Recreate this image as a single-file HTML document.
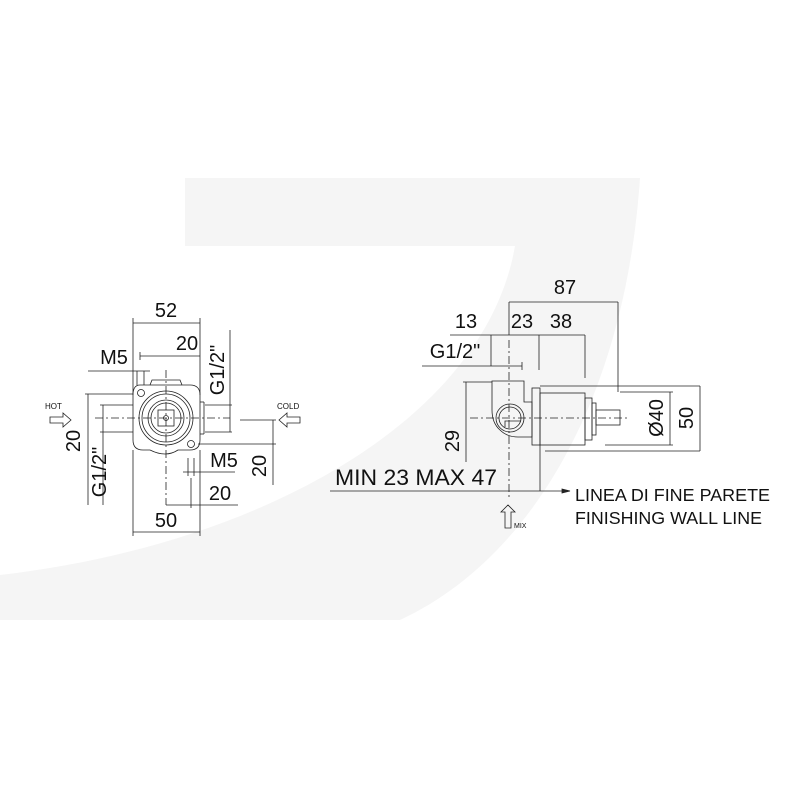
<!DOCTYPE html>
<html><head><meta charset="utf-8"><style>
html,body{margin:0;padding:0;background:#fff}
svg{display:block}
text{font-family:"Liberation Sans",sans-serif;fill:#111}
</style></head><body>
<svg width="800" height="800" viewBox="0 0 800 800" xmlns="http://www.w3.org/2000/svg">
<path d="M185,178 L640,178 C625,400 530,560 400,620 L0,620 L0,575 C260,545 485,420 515,246 L185,246 Z" fill="#f5f5f5"/>
<g stroke="#222" stroke-width="0.8" fill="none">
<line x1="133" y1="323" x2="200" y2="323"/>
<line x1="133" y1="318" x2="133" y2="395"/>
<line x1="200" y1="318" x2="200" y2="395"/>
<line x1="140" y1="356" x2="200" y2="356"/>
<line x1="140" y1="352" x2="140" y2="360"/>
<line x1="88" y1="371" x2="150" y2="371"/>
<line x1="137" y1="371" x2="137" y2="385"/>
<line x1="144" y1="371" x2="144" y2="385"/>
<line x1="230" y1="330" x2="230" y2="432"/>
<line x1="205" y1="405" x2="232" y2="405"/>
<line x1="205" y1="432" x2="232" y2="432"/>
<line x1="166" y1="370" x2="166" y2="505" stroke-dasharray="8,3,2,3"/>
<line x1="95" y1="418" x2="230" y2="418" stroke-dasharray="8,3,2,3"/>
<path d="M140,385 L190,385 Q200,385 200,395 L200,440 Q200,450 190,450 L178,450 Q166,458 150,450 L143,450 Q133,450 133,440 L133,395 Q133,385 140,385 Z"/>
<path d="M150,385 L152,380 L180,380 L182,385"/>
<line x1="200" y1="402" x2="204" y2="402"/><line x1="204" y1="402" x2="204" y2="434"/><line x1="200" y1="434" x2="204" y2="434"/>
<circle cx="141" cy="393" r="3.5"/>
<circle cx="191" cy="444" r="3.5"/>
<circle cx="166" cy="418" r="27"/>
<circle cx="166" cy="418" r="24"/>
<circle cx="166" cy="418" r="18"/>
<circle cx="166" cy="418" r="15"/>
<rect x="158" y="410" width="16" height="16"/>
<circle cx="166" cy="418" r="2.5"/>
<line x1="88" y1="394" x2="88" y2="505"/>
<line x1="85" y1="394" x2="133" y2="394"/>
<line x1="103" y1="405" x2="103" y2="505"/>
<line x1="100" y1="405" x2="133" y2="405"/>
<line x1="100" y1="432" x2="133" y2="432"/>
<line x1="183" y1="472" x2="235" y2="472"/>
<line x1="188" y1="458" x2="188" y2="476"/>
<line x1="194" y1="458" x2="194" y2="476"/>
<line x1="273" y1="420" x2="273" y2="485"/>
<line x1="198" y1="444" x2="276" y2="444"/>
<line x1="240" y1="420" x2="276" y2="420"/>
<line x1="166" y1="505" x2="238" y2="505"/>
<line x1="191" y1="478" x2="191" y2="508"/>
<line x1="133" y1="532" x2="200" y2="532"/>
<line x1="133" y1="450" x2="133" y2="536"/>
<line x1="200" y1="450" x2="200" y2="536"/>
<path d="M50,417 L63,417 L63,413 L71,420 L63,427 L63,423 L50,423 Z"/>
<path d="M300,417 L287,417 L287,413 L279,420 L287,427 L287,423 L300,423 Z"/>
<line x1="509" y1="302" x2="618" y2="302"/>
<line x1="618" y1="302" x2="618" y2="392"/>
<line x1="509" y1="302" x2="509" y2="335"/>
<line x1="450" y1="335" x2="585" y2="335"/>
<line x1="491" y1="335" x2="491" y2="366"/>
<line x1="539" y1="335" x2="539" y2="370"/>
<line x1="585" y1="335" x2="585" y2="378"/>
<line x1="422" y1="366" x2="522" y2="366"/>
<line x1="522" y1="362" x2="522" y2="370"/>
<line x1="466" y1="382" x2="466" y2="462"/>
<line x1="463" y1="382" x2="492" y2="382"/>
<line x1="470" y1="418" x2="630" y2="418" stroke-dasharray="8,3,2,3"/>
<line x1="509" y1="340" x2="509" y2="500" stroke-dasharray="8,3,2,3"/>
<path d="M492,381 L524,381 L524,402 L532,402 L532,437 L518,437 Q507,437 500,430 Q492,423 492,410 Z"/>
<circle cx="510" cy="418" r="14"/>
<circle cx="510" cy="418" r="11"/>
<path d="M505,427 L505,421 L521,421"/>
<rect x="532" y="388" width="8" height="57"/>
<rect x="540" y="393" width="45" height="52"/>
<rect x="585" y="398" width="7" height="42"/>
<rect x="592" y="403" width="4" height="32"/>
<rect x="596" y="410" width="24" height="15"/>
<line x1="540" y1="386" x2="700" y2="386"/>
<line x1="545" y1="451" x2="700" y2="451"/>
<line x1="700" y1="386" x2="700" y2="451"/>
<line x1="670" y1="392" x2="670" y2="445"/>
<line x1="620" y1="392" x2="673" y2="392"/>
<line x1="605" y1="445" x2="673" y2="445"/>
<line x1="540" y1="445" x2="540" y2="491"/>
<line x1="330" y1="491" x2="562" y2="491"/>
<path d="M562,489 L570,491 L562,493 Z" fill="#222"/>
<path d="M505,528 L505,512 L501,512 L508,505 L515,512 L511,512 L511,528 Z"/>
</g>
<g font-size="20" text-anchor="middle">
<text x="166" y="317">52</text>
<text x="187" y="350">20</text>
<text x="114" y="364">M5</text>
<text x="224" y="467">M5</text>
<text x="220" y="500">20</text>
<text x="166" y="527">50</text>
<text transform="translate(224,370) rotate(-90)">G1/2"</text>
<text transform="translate(80,441) rotate(-90)">20</text>
<text transform="translate(106,472) rotate(-90)">G1/2"</text>
<text transform="translate(266,466) rotate(-90)">20</text>
<text x="565" y="294">87</text>
<text x="466" y="328">13</text>
<text x="522" y="328">23</text>
<text x="561" y="328">38</text>
<text x="455" y="358">G1/2"</text>
<text transform="translate(459,441) rotate(-90)">29</text>
<text transform="translate(663,418) rotate(-90)">Ø40</text>
<text transform="translate(693,418) rotate(-90)">50</text>
</g>
<text x="335" y="485" font-size="22" textLength="162" lengthAdjust="spacingAndGlyphs">MIN 23 MAX 47</text>
<text x="575" y="501" font-size="17.5" textLength="195" lengthAdjust="spacingAndGlyphs">LINEA DI FINE PARETE</text>
<text x="575" y="524" font-size="17.5" textLength="187" lengthAdjust="spacingAndGlyphs">FINISHING WALL LINE</text>
<text x="45" y="409" font-size="8">HOT</text>
<text x="277" y="409" font-size="8">COLD</text>
<text x="514" y="528" font-size="7">MIX</text>
</svg>
</body></html>
